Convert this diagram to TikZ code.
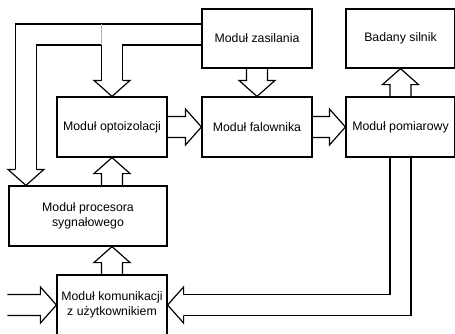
\documentclass[tikz,border=0pt]{standalone}
\usepackage{fontspec}
\setmainfont{Liberation Sans}
\usetikzlibrary{calc}
\tikzset{
  mod/.style  = {rectangle, draw, line width=1pt, minimum width=33mm, minimum height=18mm, align=center, font=\fontsize{10.5}{12.5}\selectfont},
  flow/.style = {line width=1pt},
  seam/.style = {gray!60, thin},
}
% hollow block arrow from #1 to #2
\newcommand{\blkarrow}[2]{%
  \coordinate (hb) at ($(#2)!4.8mm!(#1)$);
  \draw[flow] ($(#1)!3.15mm!90:(#2)$) -- ($(hb)!3.15mm!90:(#2)$) -- ($(hb)!5.4mm!90:(#2)$) -- (#2)
    -- ($(hb)!5.4mm!-90:(#2)$) -- ($(hb)!3.15mm!-90:(#2)$) -- ($(#1)!3.15mm!-90:(#2)$);}

\begin{document}
\begin{tikzpicture}[x=0.3mm, y=-0.3mm]

\useasboundingbox (0,0) rectangle (455,334);
\clip (0,0) rectangle (455,334);

% ================= Bloki =================
\node (zas)  [mod, minimum height=17.7mm] at (257,38.5)   {Moduł zasilania};
\node (sil)  [mod, minimum height=17.7mm, minimum width=32.7mm] at (400.5,38.5) {Badany silnik};
\node (opto) [mod] at (112,127)   {Moduł optoizolacji};
\node (fal)  [mod] at (257,127)   {Moduł falownika};
\node (pom)  [mod, minimum width=32.7mm] at (400.5,127) {Moduł pomiarowy};
\node (proc) [mod, minimum width=47.4mm] at (88,216) {Moduł procesora\\sygnałowego};
\node (kom)  [mod] at (112,305)   {Moduł komunikacji\\z użytkownikiem};

% ================= Punkty pomocnicze =================
\coordinate (za)    at ($(zas.west)+(0,-14.5)$);
\coordinate (zb)    at ($(zas.west)+(0,6.5)$);
\coordinate (ptip)  at ($(proc.north west)+(17.5,0)$);
\coordinate (pbase) at ($(ptip)+(0,-16)$);
\coordinate (pbl)   at ($(pbase)+(-10.5,0)$);
\coordinate (pbr)   at ($(pbase)+(10.5,0)$);
\coordinate (obase) at ($(opto.north)+(0,-16)$);
\coordinate (obl)   at ($(obase)+(-10.5,0)$);
\coordinate (obr)   at ($(obase)+(10.5,0)$);
\coordinate (kbase) at ($(kom.east)+(16,0)$);
\coordinate (kin)   at ($(kom.west)+(-49,0)$);
\coordinate (pt1)   at (opto.south |- proc.north);
\coordinate (kt)    at (kom.north |- proc.south);

% ================= Zasilanie -> optoizolacja, procesor =================
\draw [flow] (za) -| (pbl);
\draw [flow] (zb) -| (obr);
\draw [flow] (obl) -- (obl |- zb) -| (pbr);
\draw [seam] (obl |- za) -- (obl |- zb);
\blkarrow{obase}{opto.north}
\blkarrow{pbase}{ptip}

% ================= Tor mocy =================
\blkarrow{zas.south}{fal.north}
\blkarrow{opto.east}{fal.west}
\blkarrow{fal.east}{pom.west}
\blkarrow{pom.north}{sil.south}

% ================= Sterowanie =================
\blkarrow{pt1}{opto.south}
\blkarrow{kom.north}{kt}

% ================= Pomiar -> komunikacja =================
\draw [flow] ($(pom.south)+(-10.5,0)$) |- ($(kbase)+(0,-10.5)$);
\draw [flow] ($(pom.south)+(10.5,0)$) |- ($(kbase)+(0,10.5)$);
\blkarrow{kbase}{kom.east}
\blkarrow{kin}{kom.west}

\end{tikzpicture}
\end{document}
